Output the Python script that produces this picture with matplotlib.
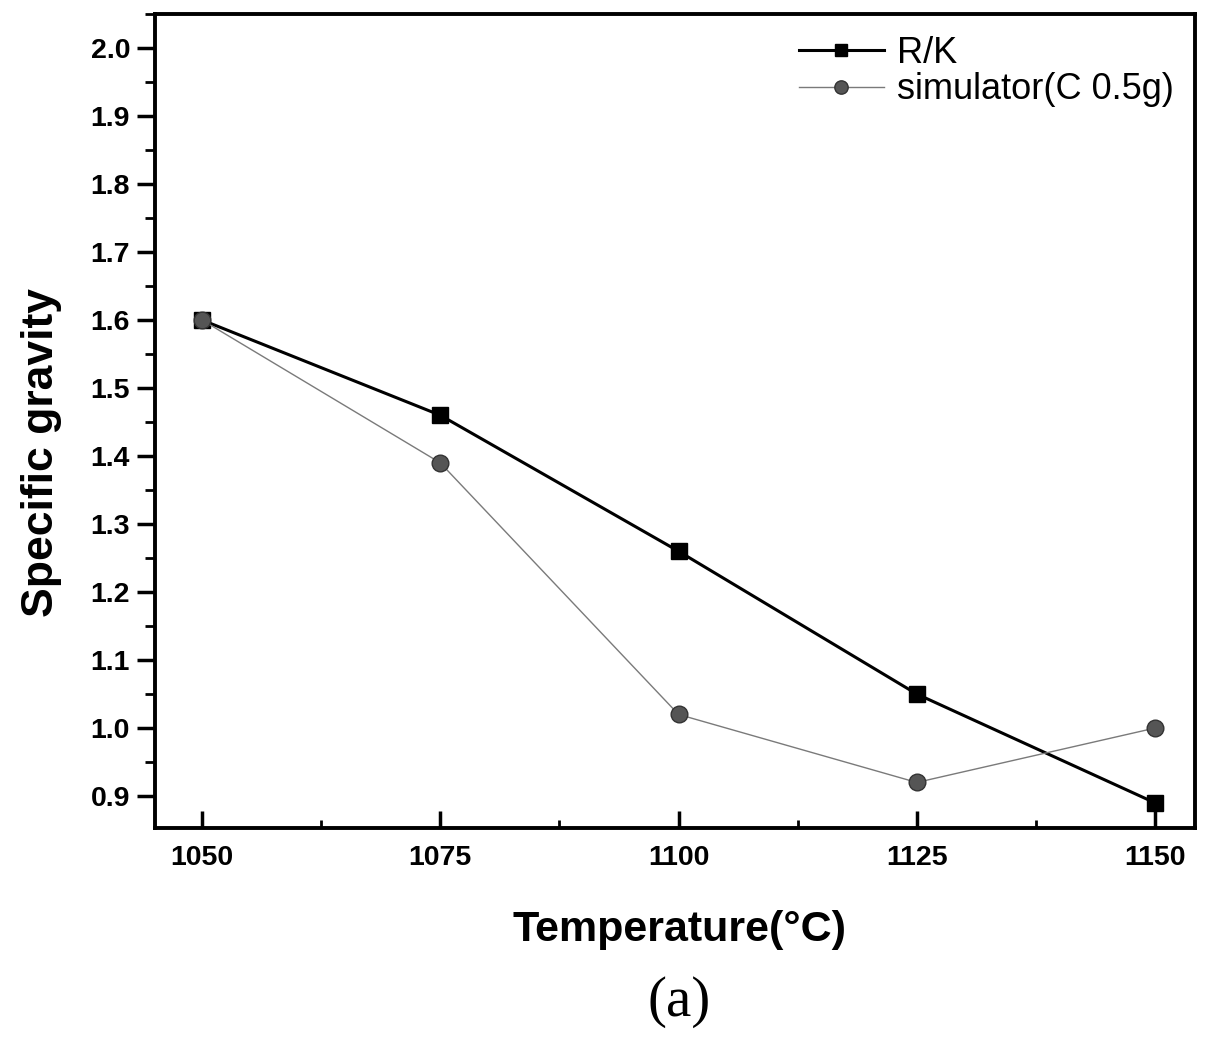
import matplotlib
matplotlib.use("Agg")
import matplotlib.pyplot as plt
from matplotlib.ticker import MultipleLocator

temperature = [1050, 1075, 1100, 1125, 1150]
rk_values = [1.60, 1.46, 1.26, 1.05, 0.89]
sim_values = [1.60, 1.39, 1.02, 0.92, 1.00]
x_ticks = [1050, 1075, 1100, 1125, 1150]
y_ticks = [0.9, 1.0, 1.1, 1.2, 1.3, 1.4, 1.5, 1.6, 1.7, 1.8, 1.9, 2.0]

plt.rcParams['font.family'] = ['Liberation Sans', 'DejaVu Sans']

fig = plt.figure(figsize=(12.15, 10.38), dpi=100)
ax = fig.add_axes([0.1276, 0.2023, 0.856, 0.7842])

ax.plot(temperature, rk_values, color='black', lw=2.2, marker='s', ms=11,
        mfc='black', mec='black', label='R/K', zorder=3)
ax.plot(temperature, sim_values, color='#7a7a7a', lw=1.0, marker='o', ms=12,
        mfc='#555555', mec='#333333', mew=1.0, label='simulator(C 0.5g)', zorder=4)

ax.set_xlim(1045.07, 1154.2)
ax.set_ylim(0.853, 2.05)
ax.set_xticks(x_ticks)
ax.set_yticks(y_ticks)
ax.xaxis.set_minor_locator(MultipleLocator(12.5))
ax.yaxis.set_minor_locator(MultipleLocator(0.05))

ax.tick_params(axis='x', which='major', direction='in', length=12, width=2.5,
               labelsize=20.5, pad=12, top=False)
ax.tick_params(axis='x', which='minor', direction='in', length=6, width=2, top=False)
ax.tick_params(axis='y', which='major', direction='out', length=13, width=2.5,
               labelsize=20.5, pad=5, right=False)
ax.tick_params(axis='y', which='minor', direction='out', length=7, width=2, right=False)
for lab in ax.get_xticklabels() + ax.get_yticklabels():
    lab.set_fontweight('bold')

for sp in ax.spines.values():
    sp.set_linewidth(2.8)

ax.set_ylabel('Specific gravity', fontsize=32, fontweight='bold')
ax.yaxis.set_label_coords(-0.0894, 0.461)
fig.text(0.559, 0.104, 'Temperature(°C)', fontsize=31, fontweight='bold',
         ha='center', va='center')
fig.text(0.559, 0.0347, '(a)', fontsize=41, family=['Liberation Serif', 'DejaVu Serif'],
         ha='center', va='center')

leg = ax.legend(loc='upper right', frameon=False, fontsize=26, handlelength=2.35,
                handletextpad=0.36, labelspacing=0.05, borderaxespad=0.2,
                markerscale=0.8, bbox_to_anchor=(1.0, 1.0))

fig.savefig('out.png', dpi=100, facecolor='white')
